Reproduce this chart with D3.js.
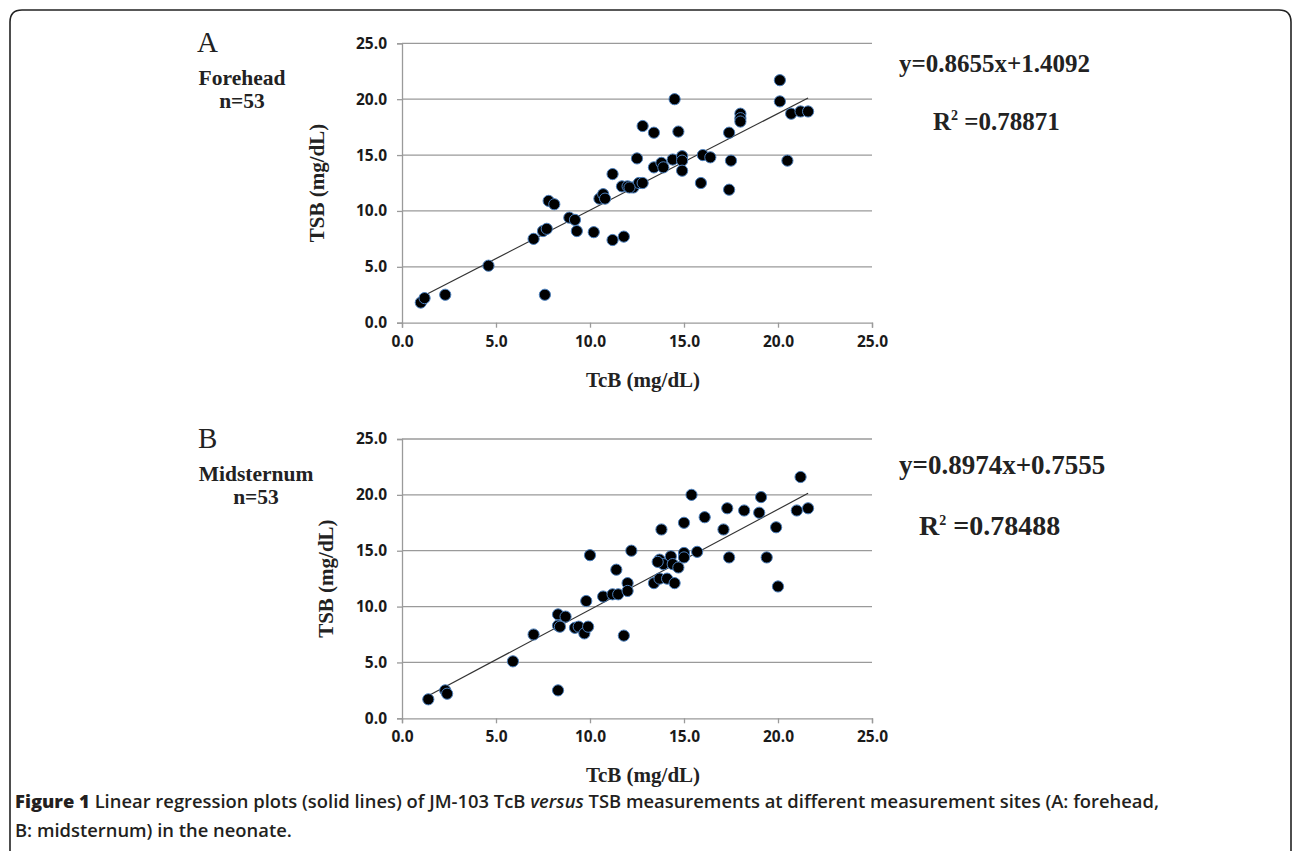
<!DOCTYPE html>
<html>
<head>
<meta charset="utf-8">
<script src="https://cdn.jsdelivr.net/npm/d3@7"></script>
<style>
  html, body { margin: 0; padding: 0; background: #fff; }
  svg { display: block; }
</style>
</head>
<body>
<svg id="chart" width="1292" height="851"></svg>
<script>
// ---------- DATA ----------
const ticks = [0, 5, 10, 15, 20, 25];

// Panel A: forehead
const tcbA = [1.0, 1.2, 2.3, 4.6, 7.0, 7.5, 7.7, 7.6, 7.8, 8.1, 8.9, 9.2, 9.3, 10.2, 10.5, 10.7, 10.8, 11.2, 11.2, 11.8,
              11.7, 12.0, 12.3, 12.6, 12.8, 12.5, 12.8, 13.4, 13.4, 13.8, 13.9, 14.4, 14.5, 14.7, 14.9, 14.9, 14.9, 16.0,
              15.9, 16.4, 17.4, 17.5, 17.4, 18.0, 18.0, 18.0, 20.1, 20.1, 20.7, 20.5, 21.2, 21.6, 12.1];
const tsbA = [1.8, 2.2, 2.5, 5.1, 7.5, 8.2, 8.4, 2.5, 10.9, 10.6, 9.4, 9.2, 8.2, 8.1, 11.1, 11.5, 11.1, 13.3, 7.4, 7.7,
              12.2, 12.2, 12.1, 12.5, 12.5, 14.7, 17.6, 17.0, 13.9, 14.3, 13.9, 14.6, 20.0, 17.1, 14.9, 14.5, 13.6, 15.0,
              12.5, 14.8, 17.0, 14.5, 11.9, 18.7, 18.3, 18.0, 21.7, 19.8, 18.7, 14.5, 18.9, 18.9, 12.1];

// Panel B: midsternum
const tcbB = [1.4, 2.3, 2.4, 5.9, 7.0, 8.3, 8.3, 8.7, 8.3, 9.2, 9.4, 9.7, 9.9, 9.8, 10.0, 10.7, 11.2, 11.4, 11.5,
              12.0, 12.0, 11.8, 12.2, 13.4, 13.7, 13.8, 13.7, 13.9, 14.1, 14.3, 14.4, 14.5, 14.7, 15.0, 15.0, 15.0,
              15.4, 15.7, 16.1, 17.1, 17.3, 17.4, 18.2, 19.0, 19.1, 19.4, 19.9, 20.0, 21.0, 21.2, 21.6, 13.6, 8.4];
const tsbB = [1.7, 2.5, 2.2, 5.1, 7.5, 9.3, 8.3, 9.1, 2.5, 8.1, 8.2, 7.6, 8.2, 10.5, 14.6, 10.9, 11.1, 13.3, 11.1,
              12.1, 11.4, 7.4, 15.0, 12.1, 12.5, 16.9, 14.2, 13.8, 12.5, 14.5, 13.8, 12.1, 13.5, 14.8, 14.4, 17.5,
              20.0, 14.9, 18.0, 16.9, 18.8, 14.4, 18.6, 18.4, 19.8, 14.4, 17.1, 11.8, 18.6, 21.6, 18.8, 14.0, 8.2];

const fitA = { slope: 0.8655, intercept: 1.4092, r2: "0.78871" };
const fitB = { slope: 0.8974, intercept: 0.7555, r2: "0.78488" };

const captionBold = "Figure 1";
const captionLine1a = " Linear regression plots (solid lines) of JM-103 TcB ";
const captionItalic = "versus";
const captionLine1b = " TSB measurements at different measurement sites (A: forehead,";
const captionLine2 = "B: midsternum) in the neonate.";

// ---------- DRAW ----------
const svg = d3.select("#chart");
const serif = "'Liberation Serif', 'Times New Roman', serif";
const sans = "'Open Sans', 'Liberation Sans', sans-serif";

// frame
svg.append("path")
  .attr("d", "M10,865 L10,22 Q10,10 22,10 L1279,10 Q1291,10 1291,22 L1291,865")
  .attr("fill", "none").attr("stroke", "#222").attr("stroke-width", 1.6);

const x = d3.scaleLinear().domain([0, 25]).range([402, 872]);

function panel(opts) {
  const y = d3.scaleLinear().domain([0, 25]).range([opts.bottom, opts.top]);
  const g = svg.append("g");

  // gridlines
  g.append("g").selectAll("line").data(ticks.slice(1)).join("line")
    .attr("x1", x(0)).attr("x2", x(25))
    .attr("y1", d => y(d)).attr("y2", d => y(d))
    .attr("stroke", "#9a9a9a").attr("stroke-width", 1.3);

  // axes
  const xAxis = g.append("g").attr("transform", `translate(0,${y(0)})`)
    .call(d3.axisBottom(x).tickValues(ticks).tickFormat(d3.format(".1f")).tickSizeOuter(0).tickSize(5).tickPadding(8));
  const yAxis = g.append("g").attr("transform", `translate(${x(0)},0)`)
    .call(d3.axisLeft(y).tickValues(ticks).tickFormat(d3.format(".1f")).tickSizeOuter(0).tickSize(5).tickPadding(10));
  [xAxis, yAxis].forEach(a => {
    a.select(".domain").attr("stroke", "#9a9a9a").attr("stroke-width", 1.3);
    a.selectAll(".tick line").attr("stroke", "#9a9a9a").attr("stroke-width", 1.3);
    a.selectAll(".tick text").attr("fill", "#1a1a1a").style("font-family", sans)
      .style("font-weight", "700").style("font-size", "15.5px");
  });

  // regression line
  const xs = opts.tcb;
  const xmin = d3.min(xs), xmax = d3.max(xs);
  g.append("line")
    .attr("x1", x(xmin)).attr("y1", y(opts.fit.slope * xmin + opts.fit.intercept))
    .attr("x2", x(xmax)).attr("y2", y(opts.fit.slope * xmax + opts.fit.intercept))
    .attr("stroke", "#333").attr("stroke-width", 1.2);

  // points
  g.append("g").selectAll("circle").data(d3.range(xs.length)).join("circle")
    .attr("cx", i => x(opts.tcb[i])).attr("cy", i => y(opts.tsb[i]))
    .attr("r", 5.6)
    .attr("fill", "#000").attr("stroke", "#4a7ebb").attr("stroke-width", 1);

  // panel letter
  g.append("text").attr("x", opts.letterX).attr("y", opts.top + 9)
    .style("font-family", serif).style("font-size", "29px").attr("fill", "#222").text(opts.letter);
  // site
  g.append("text").attr("x", opts.siteCx).attr("y", opts.top + 42).attr("text-anchor", "middle")
    .style("font-family", serif).style("font-weight", "700").style("font-size", "21.5px").attr("fill", "#222").text(opts.site);
  g.append("text").attr("x", opts.siteCx).attr("y", opts.top + 65).attr("text-anchor", "middle")
    .style("font-family", serif).style("font-weight", "700").style("font-size", "21.5px").attr("fill", "#222").text("n=53");

  // axis titles
  g.append("text").attr("x", 643).attr("y", opts.bottom + 64).attr("text-anchor", "middle")
    .style("font-family", serif).style("font-weight", "700").style("font-size", "21px").attr("fill", "#222")
    .text("TcB (mg/dL)");
  g.append("text")
    .attr("transform", `translate(${opts.yLabelX},${(opts.top + opts.bottom) / 2}) rotate(-90)`)
    .attr("text-anchor", "middle")
    .style("font-family", serif).style("font-weight", "700").style("font-size", "21px").attr("fill", "#222")
    .text("TSB (mg/dL)");

  // equation
  const eq = `y=${opts.fit.slope}x+${opts.fit.intercept}`;
  g.append("text").attr("x", 899).attr("y", opts.eqY)
    .style("font-family", serif).style("font-weight", "700").style("font-size", opts.eqSize + "px")
    .attr("fill", "#222").text(eq);
  const r = g.append("text").attr("x", opts.r2X).attr("y", opts.r2Y)
    .style("font-family", serif).style("font-weight", "700").style("font-size", opts.r2Size + "px").attr("fill", "#222");
  r.append("tspan").text("R");
  r.append("tspan").attr("dy", -10).style("font-size", "14px").text("2");
  r.append("tspan").attr("dy", 10).text(" =" + opts.fit.r2);
}

panel({ top: 43.3, bottom: 322.7, tcb: tcbA, tsb: tsbA, fit: fitA, letter: "A", letterX: 197,
        site: "Forehead", siteCx: 242, yLabelX: 324, eqY: 72, r2X: 933, r2Y: 130, eqSize: 25, r2Size: 25 });
panel({ top: 439, bottom: 718.3, tcb: tcbB, tsb: tsbB, fit: fitB, letter: "B", letterX: 198,
        site: "Midsternum", siteCx: 256, yLabelX: 333, eqY: 474, r2X: 919, r2Y: 535, eqSize: 27, r2Size: 28 });

// caption
const cap1 = svg.append("text").attr("x", 15).attr("y", 808)
  .style("font-family", sans).style("font-size", "17px").style("font-weight", "600").attr("fill", "#231f20");
cap1.append("tspan").style("font-weight", "800").text(captionBold);
cap1.append("tspan").text(captionLine1a);
cap1.append("tspan").style("font-style", "italic").text(captionItalic);
cap1.append("tspan").text(captionLine1b);
const cap2 = svg.append("text").attr("x", 15).attr("y", 837)
  .style("font-family", sans).style("font-size", "17px").style("font-weight", "600").attr("fill", "#231f20").text(captionLine2);

// fit caption width to reference (~1145px)
const w1 = cap1.node().getComputedTextLength();
const fs = Math.max(14, Math.min(19, 17 * 1145 / w1));
cap1.style("font-size", fs + "px");
cap2.style("font-size", fs + "px");
</script>
</body>
</html>
